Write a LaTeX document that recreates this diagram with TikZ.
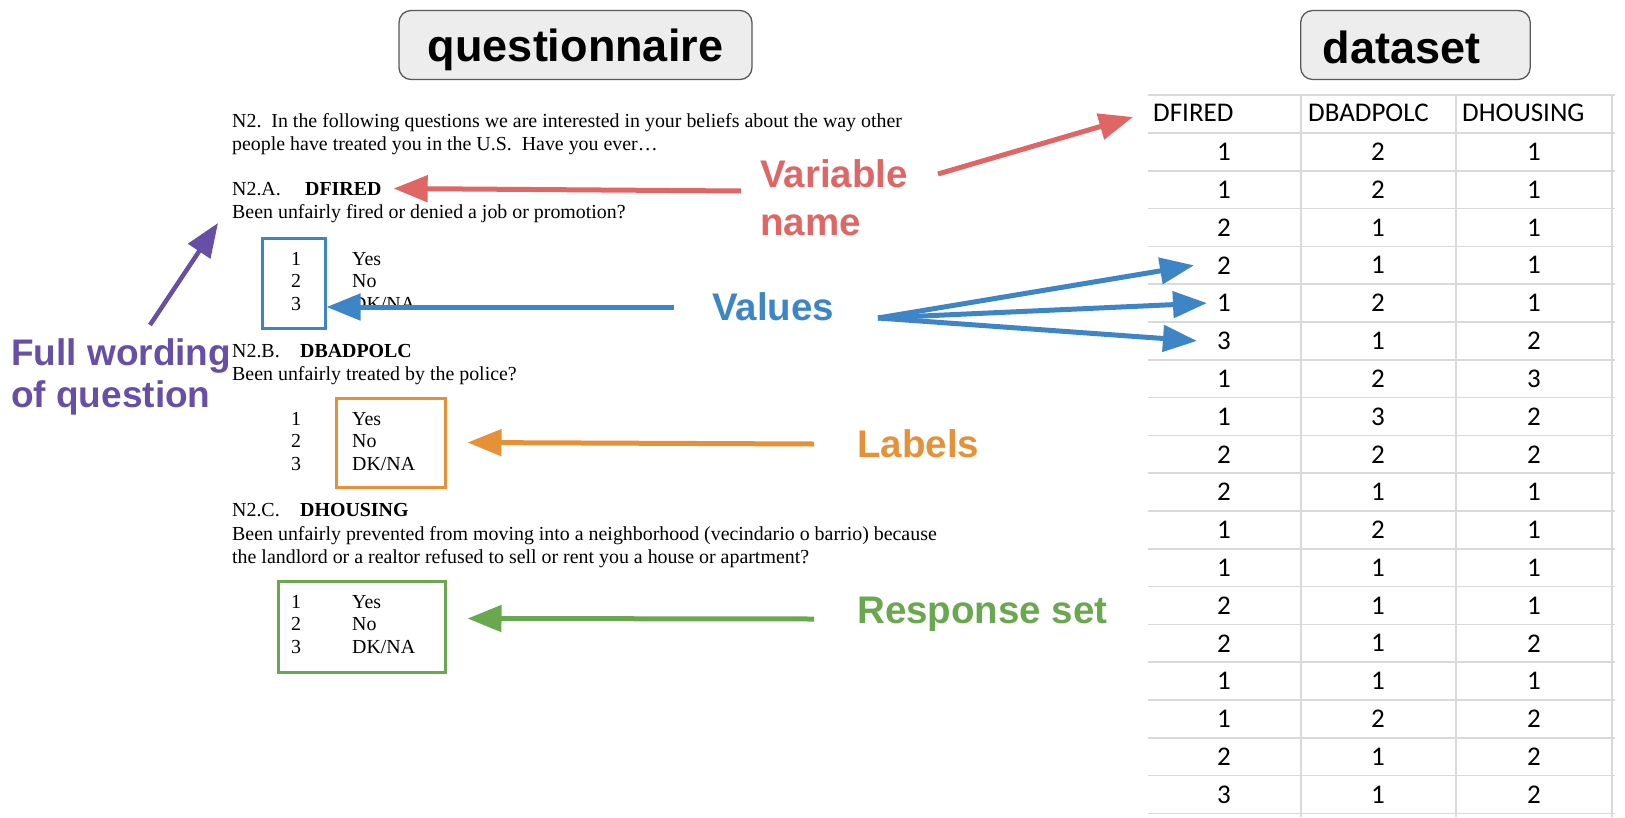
\documentclass[tikz,border=0pt]{standalone}
\usepackage{fontspec}
\setmainfont{Liberation Serif}
\newfontfamily\sansbold{Liberation Sans}
\newfontfamily\cellfont{Carlito}
\usetikzlibrary{arrows.meta}

\definecolor{qsNameColor}{RGB}{224,102,102}
\definecolor{qsValueColor}{RGB}{61,133,198}
\definecolor{qsLabelColor}{RGB}{230,145,56}
\definecolor{qsSetColor}{RGB}{106,168,79}
\definecolor{qsWordColor}{RGB}{103,78,167}
\definecolor{qsGridColor}{RGB}{217,217,217}

\begin{document}
\begin{tikzpicture}[x=1pt, y=-1pt]
            \tikzset{titlebox/.style={draw=black!65, fill=black!7, line width=1.3pt, rounded corners=12pt, inner sep=0pt, minimum height=69pt, font=\sansbold\bfseries\fontsize{45}{54}\selectfont}}
            \tikzset{tag/.style={anchor=base west, inner sep=0pt, font=\sansbold\bfseries\fontsize{38.5}{46}\selectfont}}
            \tikzset{qline/.style={anchor=base west, inner sep=0pt, font=\fontsize{19.9}{23}\selectfont}}
            \tikzset{qvar/.style={qline, font=\bfseries\fontsize{19.9}{23}\selectfont}}
            \tikzset{qnum/.style={anchor=base, inner sep=0pt, font=\fontsize{19.9}{23}\selectfont}}
            \tikzset{optbox/.style={draw, line width=3pt, inner sep=0pt}}
            \tikzset{cell/.style={inner sep=0pt, font=\cellfont\fontsize{27}{32}\selectfont}}
            \tikzset{gridline/.style={draw=qsGridColor, line width=1.6pt}}
            \tikzset{pointer/.style={line width=5pt, -{Triangle[length=34pt, width=26pt]}}}

            \useasboundingbox (0,0) rectangle (1625,817);

            % titles
            \node[titlebox, minimum width=353pt, text height=33pt, text depth=0pt] (qtitle) at (575.5,45) {questionnaire};
            \node[titlebox, anchor=west, text height=37pt, text depth=0pt] (dtitle) at (1300,45) {\hspace*{22pt}dataset\hspace*{50pt}};

            % questionnaire page
            \node[qline] (intro1) at (232,127) {N2.\ \ In the following questions we are interested in your beliefs about the way other};
            \node[qline] (intro2) at (232,150) {people have treated you in the U.S.\ \ Have you ever…};

            \node[qline] (qa) at (232,195) {N2.A.};
            \node[qvar] (vfired) at (305,195) {DFIRED};
            \node[qline] (qatext) at (232,218) {Been unfairly fired or denied a job or promotion?};

            \node[qline] (qb) at (232,357) {N2.B.};
            \node[qvar] (vpolc) at (300,357) {DBADPOLC};
            \node[qline] (qbtext) at (232,380) {Been unfairly treated by the police?};

            \node[qline] (qc) at (232,516) {N2.C.};
            \node[qvar] (vhousing) at (300,516) {DHOUSING};
            \node[qline] (qctext1) at (232,540) {Been unfairly prevented from moving into a neighborhood (vecindario o barrio) because};
            \node[qline] (qctext2) at (232,563) {the landlord or a realtor refused to sell or rent you a house or apartment?};

            \foreach \blk/\y in {a/265, b/425, c/608} {
                \node[qnum] (\blk-n1) at (296,\y) {1};
                \node[qnum] (\blk-n2) at (296,\y+22.5) {2};
                \node[qnum] (\blk-n3) at (296,\y+45.5) {3};
                \node[qline] (\blk-yes) at (352,\y) {Yes};
                \node[qline] (\blk-no) at (352,\y+22.5) {No};
                \node[qline] (\blk-dk) at (352,\y+45.5) {DK/NA};
            }

            \node[optbox, draw=qsValueColor, minimum width=63pt, minimum height=90pt] (optA) at (293.5,283) {};
            \node[optbox, draw=qsLabelColor, minimum width=109pt, minimum height=89pt] (optB) at (390.5,442.5) {};
            \node[optbox, draw=qsSetColor, minimum width=167pt, minimum height=91pt] (optC) at (361.5,626.5) {};

            % dataset table
            \draw[gridline] (1148,95) -- (1615,95);
            \foreach \k in {0,...,18} \draw[gridline] (1148,133+37.8*\k) -- (1615,133+37.8*\k);
            \foreach \x in {1301,1456,1612} \draw[gridline] (\x,95) -- (\x,817);

            \node[cell, anchor=west] (h1) at (1153,113) {DFIRED};
            \node[cell, anchor=west] (h2) at (1308,113) {DBADPOLC};
            \node[cell, anchor=west] (h3) at (1462,113) {DHOUSING};

            \foreach \r/\a/\b/\c in {1/1/2/1, 2/1/2/1, 3/2/1/1, 4/2/1/1, 5/1/2/1, 6/3/1/2, 7/1/2/3, 8/1/3/2, 9/2/2/2,
                                     10/2/1/1, 11/1/2/1, 12/1/1/1, 13/2/1/1, 14/2/1/2, 15/1/1/1, 16/1/2/2, 17/2/1/2, 18/3/1/2} {
                \node[cell] (r\r-1) at (1224,114.1+37.8*\r) {\a};
                \node[cell] (r\r-2) at (1378,114.1+37.8*\r) {\b};
                \node[cell] (r\r-3) at (1534,114.1+37.8*\r) {\c};
            }

            % callouts
            \node[tag, text=qsNameColor] (varname1) at (760,187) {Variable};
            \node[tag, text=qsNameColor] (varname2) at (760,235) {name};
            \node[tag, text=qsValueColor] (values) at (712,320) {Values};
            \node[tag, text=qsLabelColor] (labels) at (857,457) {Labels};
            \node[tag, text=qsSetColor] (respset) at (857,623) {Response set};
            \node[tag, text=qsWordColor, font=\sansbold\bfseries\fontsize{37}{43}\selectfont] (wording1) at (11,365) {Full wording};
            \node[tag, text=qsWordColor, font=\sansbold\bfseries\fontsize{37}{43}\selectfont] (wording2) at (11,407) {of question};

            \coordinate (nametail) at (741,191);
            \coordinate (headtail) at (938,174);
            \coordinate (headtip) at (1133,117);
            \coordinate (valuetail) at (674,307);
            \coordinate (fan) at (878,318);
            \coordinate (labeltail) at (814,444);
            \coordinate (settail) at (814,619);
            \coordinate (wordtail) at (150,325);
            \coordinate (wordtip) at (218,223);

            \draw[pointer, qsNameColor] (nametail) -- ([xshift=12pt]vfired.east);
            \draw[pointer, qsNameColor] (headtail) -- (headtip);
            \draw[pointer, qsValueColor] (valuetail) -- ([yshift=-24pt]optA.east);
            \draw[pointer, qsValueColor] (fan) -- ([xshift=-23pt]r4-1.west);
            \draw[pointer, qsValueColor] (fan) -- ([xshift=-10pt]r5-1.west);
            \draw[pointer, qsValueColor] (fan) -- ([xshift=-20pt]r6-1.west);
            \draw[pointer, qsLabelColor] (labeltail) -- ([xshift=21pt]optB.east);
            \draw[pointer, qsSetColor] (settail) -- ([xshift=21pt,yshift=8pt]optC.east);
            \draw[pointer, qsWordColor, line width=4.5pt] (wordtail) -- (wordtip);
        \end{tikzpicture}
\end{document}
